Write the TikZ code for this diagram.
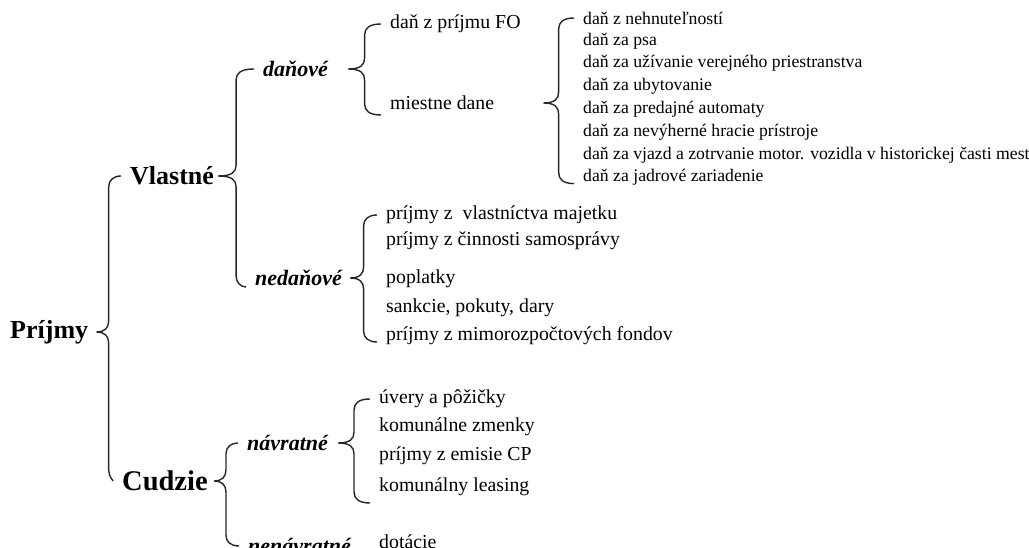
\documentclass[tikz,border=0pt]{standalone}
\usepackage{fontspec}
\setmainfont{Liberation Serif}
\usetikzlibrary{calc}
\tikzstyle{hlavny}=[anchor=west, inner sep=1pt, font=\fontsize{26}{28}\selectfont\bfseries]
\tikzstyle{skupina}=[anchor=west, inner sep=1pt, font=\fontsize{22}{24}\selectfont\bfseries\itshape]
\tikzstyle{polozka}=[anchor=west, inner sep=1pt, font=\fontsize{19.8}{22}\selectfont]
\tikzstyle{drobna}=[anchor=west, inner sep=1pt, font=\fontsize{17.7}{20}\selectfont]
\tikzstyle{zatv}=[line width=1.4pt, draw=black!85]
% #1 rodic, #2 horny, #3 dolny, #4 medzera pri hrote, #5 posun dolneho konca
\newcommand{\zatvorka}[5]{%
  \draw[zatv] let \p1=($(#1.east)+(#4,0)$), \p2=($(#2.west)+(-8,0)$),
      \p3=($(#3.west)+(-8,-#5)$), \n1={0.5*(\x1+\x2)} in
    (\p2) .. controls (\n1+5pt,\y2) and (\n1,\y2-4pt) .. (\n1,\y2-11pt)
    -- (\n1,\y1+11pt) .. controls (\n1,\y1+4pt) and (\n1-4pt,\y1) .. (\p1)
    .. controls (\n1-4pt,\y1) and (\n1,\y1-4pt) .. (\n1,\y1-11pt)
    -- (\n1,\y3+11pt) .. controls (\n1,\y3+4pt) and (\n1+5pt,\y3) .. (\p3);}

\begin{document}
\begin{tikzpicture}[x=1pt, y=1pt]
    \useasboundingbox (0, 0) rectangle (1029, 548);
    \clip (0, 0) rectangle (1029, 548);
    \node[hlavny] (prijmy) at (9, 216) {Príjmy};
    \node[hlavny] (vlastne) at (129, 372) {Vlastné};
    \node[hlavny, font=\fontsize{28.5}{30}\selectfont\bfseries] (cudzie) at (121, 67) {Cudzie};
    \node[skupina] (danove) at (262, 479) {daňové};
    \node[skupina] (nedanove) at (254, 270) {nedaňové};
    \node[skupina] (navratne) at (246, 105) {návratné};
    \node[skupina] (nenavratne) at (247, 2) {nenávratné};
    \node[polozka] (dfo) at (389, 524) {daň z príjmu FO};
    \node[polozka] (miestne) at (389, 445) {miestne dane};
    \node[drobna] (m1) at (582, 530) {daň z nehnuteľností};
    \node[drobna] (m2) at (582, 507.2) {daň za psa};
    \node[drobna] (m3) at (582, 484.4) {daň za užívanie verejného priestranstva};
    \node[drobna] (m4) at (582, 461.6) {daň za ubytovanie};
    \node[drobna] (m5) at (582, 438.8) {daň za predajné automaty};
    \node[drobna] (m6) at (582, 416) {daň za nevýherné hracie prístroje};
    \node[drobna] (m7) at (582, 393.2) {daň za vjazd a zotrvanie motor. vozidla v historickej časti mesta};
    \node[drobna] (m8) at (582, 370.4) {daň za jadrové zariadenie};
    \node[polozka] (n1) at (385, 333) {príjmy z\ \ vlastníctva majetku};
    \node[polozka] (n2) at (385, 307) {príjmy z činnosti samosprávy};
    \node[polozka] (n3) at (385, 269) {poplatky};
    \node[polozka] (n4) at (385, 240) {sankcie, pokuty, dary};
    \node[polozka] (n5) at (385, 212) {príjmy z mimorozpočtových fondov};
    \node[polozka] (v1) at (378, 149) {úvery a pôžičky};
    \node[polozka] (v2) at (378, 121) {komunálne zmenky};
    \node[polozka] (v3) at (378, 92) {príjmy z emisie CP};
    \node[polozka] (v4) at (378, 61) {komunálny leasing};
    \node[polozka] (dotacie) at (378, 6) {dotácie};
    \zatvorka{prijmy}{vlastne}{cudzie}{7}{0}
    \zatvorka{vlastne}{danove}{nedanove}{3}{9}
    \zatvorka{danove}{dfo}{miestne}{19}{12}
    \zatvorka{miestne}{m1}{m8}{48}{6}
    \zatvorka{nedanove}{n1}{n5}{7}{6}
    \zatvorka{cudzie}{navratne}{nenavratne}{5}{0}
    \zatvorka{navratne}{v1}{v4}{9}{16}
\end{tikzpicture}
\end{document}
